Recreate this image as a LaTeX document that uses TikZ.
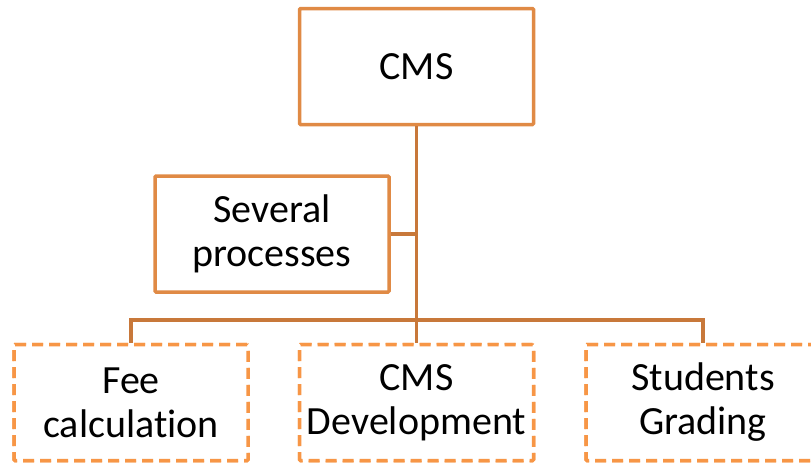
\documentclass[tikz,border=0pt]{standalone}
\usepackage{fontspec}
\setmainfont[RawFeature={-liga;-clig;-dlig}]{Carlito}
\definecolor{boxline}{HTML}{E08A45}
\definecolor{dashline}{HTML}{F79646}
\definecolor{linkline}{HTML}{C8783A}
\begin{document}
\begin{tikzpicture}[x=1pt,y=-1pt,
  solidbox/.style={draw=boxline,line width=3.5pt,rounded corners=1pt,fill=white,
    minimum width=234pt,minimum height=116pt,align=center,font=\fontsize{40}{44}\selectfont,inner sep=0pt},
  dashbox/.style={solidbox,draw=dashline,dash pattern=on 11pt off 6pt},
  link/.style={draw=linkline,line width=3.2pt}]
\useasboundingbox (0,0) rectangle (811,464);
% top node and the side note
\node[solidbox] (cms) at (416.5,66.5) {CMS};
\node[solidbox] (sev) at (272,234) {Several\\processes};
% children
\node[dashbox] (fee) at (131,402.5) {Fee\\calculation};
\node[dashbox] (dev) at (416.5,402.5) {CMS\\Development};
\node[dashbox] (grd) at (703,402.5) {Students\\Grading};
% connectors
\coordinate (bar) at (416.5,320);
\draw[link] (cms.south) -- (bar);
\draw[link] (sev.east) -- (sev.east -| cms.south);
\draw[link] (fee.north) |- (bar) -| (grd.north);
\draw[link] (bar) -- (dev.north);
% redraw child boxes over the link ends
\node[dashbox] at (fee) {Fee\\calculation};
\node[dashbox] at (dev) {CMS\\Development};
\node[dashbox] at (grd) {Students\\Grading};
\end{tikzpicture}
\end{document}
